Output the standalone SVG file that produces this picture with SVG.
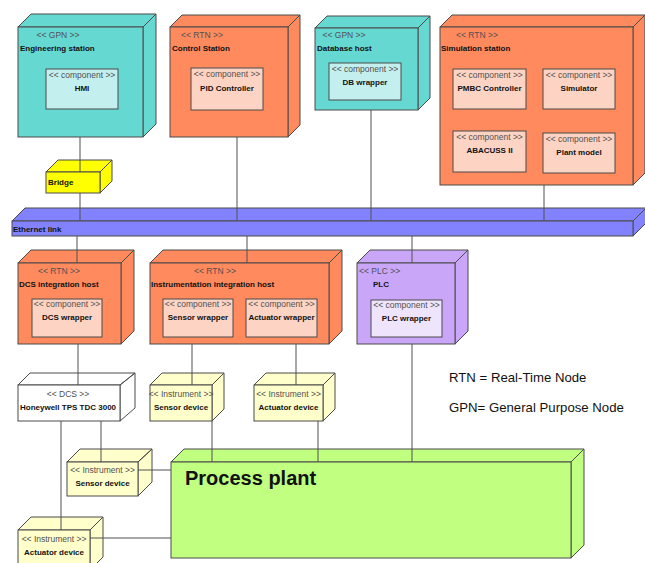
<svg xmlns="http://www.w3.org/2000/svg" width="645" height="563" viewBox="0 0 645 563">
<style>
.n{stroke:#4a4a4a;stroke-width:1}
.cy{fill:#66D8D2}.cyc{fill:#C4EFEF}
.or{fill:#FF8A5E}.orc{fill:#FDD3C3}
.ye{fill:#FFFF00}.et{fill:#8282FF}
.pl{fill:#C9A6F8}.plc{fill:#EEE4FB}
.in{fill:#FFFFCC}.wh{fill:#FFFFFF}.gr{fill:#C0FF80}
.st{font-family:"Liberation Sans",Arial,sans-serif;font-size:8.5px;fill:#505050}
.nm{font-family:"Liberation Sans",Arial,sans-serif;font-size:8px;font-weight:bold;fill:#111}
.c{text-anchor:middle}
.lg{font-family:"Liberation Sans",Arial,sans-serif;font-size:13.2px;fill:#111}
.ln{stroke:#505050;stroke-width:1;fill:none}
</style>
<g id="engineering-station">
<path class="n cy" d="M18,27 L31,14 L156,14 L143,27 Z M143,27 L156,14 L156,124 L143,137 Z"/>
<rect class="n cy" x="18" y="27" width="125" height="110"/>
<text class="st c" x="58" y="38">&lt;&lt; GPN &gt;&gt;</text>
<text class="nm" x="20" y="51">Engineering station</text>
<rect class="n cyc" x="46" y="69" width="72" height="40"/>
<text class="st c" x="82" y="78">&lt;&lt; component &gt;&gt;</text>
<text class="nm c" x="82" y="91">HMI</text>
</g>
<g id="control-station">
<path class="n or" d="M170,27 L182,15 L300,15 L288,27 Z M288,27 L300,15 L300,125 L288,137 Z"/>
<rect class="n or" x="170" y="27" width="118" height="110"/>
<text class="st c" x="202" y="38">&lt;&lt; RTN &gt;&gt;</text>
<text class="nm" x="172" y="51">Control Station</text>
<rect class="n orc" x="191" y="68" width="72" height="42"/>
<text class="st c" x="227" y="77">&lt;&lt; component &gt;&gt;</text>
<text class="nm c" x="227" y="91">PID Controller</text>
</g>
<g id="database-host">
<path class="n cy" d="M315,28 L327,16 L430,16 L418,28 Z M418,28 L430,16 L430,98 L418,110 Z"/>
<rect class="n cy" x="315" y="28" width="103" height="82"/>
<text class="st c" x="344" y="38">&lt;&lt; GPN &gt;&gt;</text>
<text class="nm" x="317" y="51">Database host</text>
<rect class="n cyc" x="329" y="63" width="72" height="37"/>
<text class="st c" x="365" y="72">&lt;&lt; component &gt;&gt;</text>
<text class="nm c" x="365" y="85">DB wrapper</text>
</g>
<g id="simulation-station">
<path class="n or" d="M440,27 L452,15 L645,15 L633,27 Z M633,27 L645,15 L645,173 L633,185 Z"/>
<rect class="n or" x="440" y="27" width="193" height="158"/>
<text class="st c" x="477" y="38">&lt;&lt; RTN &gt;&gt;</text>
<text class="nm" x="441" y="51">Simulation station</text>
<rect class="n orc" x="453" y="69" width="73" height="40"/>
<text class="st c" x="489.5" y="78">&lt;&lt; component &gt;&gt;</text>
<text class="nm c" x="489.5" y="91">PMBC Controller</text>
<rect class="n orc" x="543" y="69" width="72" height="40"/>
<text class="st c" x="579" y="78">&lt;&lt; component &gt;&gt;</text>
<text class="nm c" x="579" y="91">Simulator</text>
<rect class="n orc" x="453" y="131" width="73" height="41"/>
<text class="st c" x="489.5" y="140">&lt;&lt; component &gt;&gt;</text>
<text class="nm c" x="489.5" y="153">ABACUSS II</text>
<rect class="n orc" x="543" y="133" width="72" height="40"/>
<text class="st c" x="579" y="142">&lt;&lt; component &gt;&gt;</text>
<text class="nm c" x="579" y="155">Plant model</text>
</g>
<g id="bridge">
<path class="n ye" d="M46,172 L58,160 L112,160 L100,172 Z M100,172 L112,160 L112,181 L100,193 Z"/>
<rect class="n ye" x="46" y="172" width="54" height="21"/>
<text class="nm" x="48" y="185">Bridge</text>
</g>
<g id="ethernet-link">
<path class="n et" d="M12,221 L25,208 L646,208 L633,221 Z M633,221 L646,208 L646,223 L633,236 Z"/>
<rect class="n et" x="12" y="221" width="621" height="15"/>
<text class="nm" x="13" y="232">Ethernet link</text>
</g>
<g id="dcs-integration-host">
<path class="n or" d="M18,263 L31,250 L134,250 L121,263 Z M121,263 L134,250 L134,331 L121,344 Z"/>
<rect class="n or" x="18" y="263" width="103" height="81"/>
<text class="st c" x="59" y="274">&lt;&lt; RTN &gt;&gt;</text>
<text class="nm" x="19" y="287">DCS integration host</text>
<rect class="n orc" x="32" y="299" width="70" height="38"/>
<text class="st c" x="67" y="307">&lt;&lt; component &gt;&gt;</text>
<text class="nm c" x="67" y="320">DCS wrapper</text>
</g>
<g id="instrumentation-integration-host">
<path class="n or" d="M150,263 L163,250 L342,250 L329,263 Z M329,263 L342,250 L342,331 L329,344 Z"/>
<rect class="n or" x="150" y="263" width="179" height="81"/>
<text class="st c" x="215" y="274">&lt;&lt; RTN &gt;&gt;</text>
<text class="nm" x="151" y="287">Instrumentation integration host</text>
<rect class="n orc" x="163" y="299" width="70" height="38"/>
<text class="st c" x="198" y="307">&lt;&lt; component &gt;&gt;</text>
<text class="nm c" x="198" y="320">Sensor wrapper</text>
<rect class="n orc" x="246" y="299" width="71" height="38"/>
<text class="st c" x="281.5" y="307">&lt;&lt; component &gt;&gt;</text>
<text class="nm c" x="281.5" y="320">Actuator wrapper</text>
</g>
<g id="plc">
<path class="n pl" d="M357,263 L370,250 L468,250 L455,263 Z M455,263 L468,250 L468,331 L455,344 Z"/>
<rect class="n pl" x="357" y="263" width="98" height="81"/>
<text class="st" x="359" y="274">&lt;&lt; PLC &gt;&gt;</text>
<text class="nm c" x="381" y="287">PLC</text>
<rect class="n plc" x="371" y="300" width="71" height="37"/>
<text class="st c" x="406.5" y="308">&lt;&lt; component &gt;&gt;</text>
<text class="nm c" x="406.5" y="321">PLC wrapper</text>
</g>
<g id="honeywell">
<path class="n wh" d="M18,385 L30,373 L135,373 L120,385 Z M120,385 L135,373 L135,408 L120,421 Z"/>
<rect class="n wh" x="18" y="385" width="102" height="36"/>
<text class="st c" x="68" y="397">&lt;&lt; DCS &gt;&gt;</text>
<text class="nm" x="20" y="410">Honeywell TPS TDC 3000</text>
</g>
<g id="sensor-device-1">
<path class="n in" d="M150,385 L162,373 L224,373 L212,385 Z M212,385 L224,373 L224,409 L212,421 Z"/>
<rect class="n in" x="150" y="385" width="62" height="36"/>
<text class="st c" x="181" y="397">&lt;&lt; Instrument &gt;&gt;</text>
<text class="nm c" x="181" y="410">Sensor device</text>
</g>
<g id="actuator-device-1">
<path class="n in" d="M254,385 L266,373 L335,373 L323,385 Z M323,385 L335,373 L335,409 L323,421 Z"/>
<rect class="n in" x="254" y="385" width="69" height="36"/>
<text class="st c" x="288.5" y="397">&lt;&lt; Instrument &gt;&gt;</text>
<text class="nm c" x="288.5" y="410">Actuator device</text>
</g>
<g id="process-plant">
<path class="n gr" d="M171,462 L184,449 L584,449 L571,462 Z M571,462 L584,449 L584,545 L571,558 Z"/>
<rect class="n gr" x="171" y="462" width="400" height="96"/>
<text x="185" y="485" style="font-family:'Liberation Sans',Arial,sans-serif;font-size:20px;font-weight:bold;fill:#111">Process plant</text>
</g>
<g id="sensor-device-2">
<path class="n in" d="M67,462 L80,449 L152,449 L138,462 Z M138,462 L152,449 L152,482 L138,496 Z"/>
<rect class="n in" x="67" y="462" width="71" height="34"/>
<text class="st c" x="102.5" y="473">&lt;&lt; Instrument &gt;&gt;</text>
<text class="nm c" x="102.5" y="486">Sensor device</text>
</g>
<g id="actuator-device-2">
<path class="n in" d="M18,530 L31,517 L103,517 L90,530 Z M90,530 L103,517 L103,557 L90,570 Z"/>
<rect class="n in" x="18" y="530" width="72" height="40"/>
<text class="st c" x="54" y="542">&lt;&lt; Instrument &gt;&gt;</text>
<text class="nm c" x="54" y="555">Actuator device</text>
</g>
<g id="connectors" class="ln">
<path d="M80,137V172 M80,193V221 M237,137V221 M371,110V221 M544,185V221"/>
<path d="M77,236V263 M247,236V263 M412,236V263"/>
<path d="M78,344V385 M192,344V385 M296,344V385 M412,344V462"/>
<path d="M212,421V462 M318,421V462 M101,421V462 M61,421V530"/>
<path d="M138,470H171 M90,538H171"/>
</g>
<g id="legend">
<text class="lg" x="449" y="382">RTN = Real-Time Node</text>
<text class="lg" x="449" y="412">GPN= General Purpose Node</text>
</g>
</svg>
